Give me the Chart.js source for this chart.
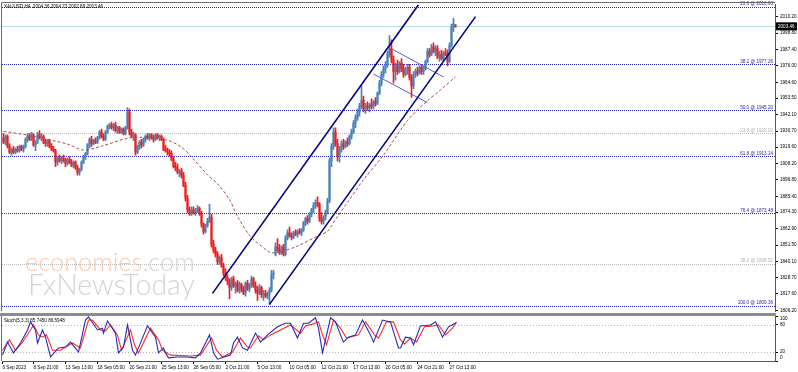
<!DOCTYPE html>
<html><head><meta charset="utf-8">
<script src="https://cdn.jsdelivr.net/npm/chart.js@4.4.0/dist/chart.umd.min.js"></script>
<style>
html,body{margin:0;padding:0;background:#fff;width:798px;height:372px;overflow:hidden}
#main{position:absolute;left:0;top:0}
#stoch{position:absolute;left:0;top:316px}
#sep{position:absolute;left:0;top:313px;width:776px;height:3px;background:#8c8c8c}
</style></head><body>
<canvas id="main" width="798" height="316"></canvas>
<div id="sep"></div>
<canvas id="stoch" width="798" height="56"></canvas>
<script>
// ---------- DATA ----------
const symbolHeader = 'XAUUSD,H4  2004.36 2004.73 2002.89 2003.46';
const stochHeader = 'Stoch(5,3,3) 85.7450 86.5948';

const open = [1926,1923,1927,1920,1916,1918,1916,1918,1917,1920,1918,1920,1925,1927,1925,1928,1921,1923,1928,1926,
1927,1923,1922,1924,1920,1918,1917,1909,1912,1910,1912,1910,1908,1911,1909,1907,1909,1905,1902,1904,
1909,1913,1915,1921,1925,1922,1924,1923,1926,1930,1927,1925,1930,1934,1935,1933,1935,1931,1933,1930,
1932,1929,1933,1944,1930,1927,1928,1916,1920,1923,1921,1925,1927,1926,1928,1926,1925,1928,1926,1927,
1925,1918,1917,1916,1915,1911,1906,1905,1902,1903,1900,1893,1884,1876,1874,1876,1874,1875,1877,1873,
1866,1861,1865,1868,1871,1852,1848,1845,1840,1843,1837,1832,1829,1826,1822,1828,1823,1825,1820,1824,
1821,1818,1825,1821,1824,1828,1823,1820,1818,1822,1817,1818,1816,1818,1820,1831,1845,1850,1848,1846,
1850,1845,1856,1860,1858,1857,1860,1859,1861,1860,1862,1867,1870,1868,1873,1876,1879,1881,1880,1870,
1868,1871,1874,1882,1910,1920,1930,1922,1913,1918,1922,1920,1923,1922,1927,1930,1936,1940,1944,1948,
1952,1946,1948,1947,1949,1948,1951,1950,1957,1964,1970,1974,1977,1984,1988,1980,1972,1976,1972,1978,
1974,1970,1973,1975,1968,1962,1970,1972,1971,1975,1972,1974,1979,1986,1984,1989,1986,1988,1982,1984,
1981,1985,1984,1979,1990,2003,2004.36];
const high = [1929,1928,1928,1922,1919,1920,1919,1920,1921,1921,1921,1926,1929,1929,1930,1929,1924,1930,1931,1929,
1928,1925,1925,1925,1922,1920,1918,1913,1914,1913,1914,1912,1912,1913,1911,1910,1910,1907,1905,1910,
1914,1916,1922,1926,1927,1925,1926,1927,1931,1932,1929,1931,1935,1936,1937,1936,1937,1934,1934,1933,
1933,1934,1947,1946,1932,1930,1929,1921,1924,1925,1926,1928,1929,1929,1929,1928,1929,1929,1928,1928,
1926,1921,1919,1918,1917,1913,1909,1908,1904,1905,1902,1895,1886,1878,1878,1878,1877,1879,1878,1875,
1867,1866,1870,1880,1873,1855,1850,1847,1844,1845,1839,1835,1831,1828,1829,1830,1826,1827,1826,1825,
1823,1826,1827,1825,1830,1829,1826,1823,1824,1823,1820,1820,1819,1822,1834,1834,1853,1856,1852,1851,
1852,1858,1862,1864,1860,1861,1862,1862,1863,1863,1868,1871,1872,1874,1877,1881,1883,1885,1881,1874,
1872,1876,1884,1912,1922,1933,1933,1925,1920,1924,1925,1924,1926,1928,1932,1938,1942,1946,1950,1962,
1955,1950,1951,1950,1953,1952,1954,1958,1966,1972,1976,1979,1986,1997,1994,1983,1978,1980,1979,1981,
1977,1975,1977,1977,1970,1972,1974,1975,1976,1977,1976,1980,1988,1988,1991,1992,1990,1990,1986,1987,
1986,1988,1987,1992,2005,2009,2004.73];
const low = [1922,1921,1919,1915,1914,1915,1915,1916,1916,1917,1916,1919,1923,1924,1924,1920,1917,1922,1925,1924,
1922,1920,1920,1919,1917,1916,1906,1907,1909,1908,1909,1906,1907,1908,1906,1905,1904,1900,1900,1903,
1908,1911,1914,1919,1920,1921,1922,1922,1925,1926,1924,1924,1929,1932,1932,1931,1930,1929,1929,1929,
1928,1928,1932,1928,1926,1924,1914,1915,1918,1919,1920,1923,1925,1924,1925,1923,1924,1925,1924,1924,
1917,1916,1914,1913,1910,1905,1903,1901,1899,1898,1892,1882,1874,1872,1872,1873,1872,1874,1872,1864,
1859,1860,1864,1867,1850,1846,1843,1838,1838,1836,1830,1827,1824,1814,1820,1822,1818,1819,1818,1819,
1817,1816,1820,1819,1822,1822,1818,1813,1817,1815,1813,1815,1814,1810,1819,1828,1844,1847,1845,1845,
1844,1844,1855,1857,1855,1856,1858,1857,1859,1858,1861,1865,1866,1867,1871,1874,1877,1878,1868,1866,
1866,1869,1873,1881,1906,1918,1920,1910,1909,1916,1918,1919,1920,1921,1925,1929,1933,1938,1941,1946,
1944,1943,1945,1944,1946,1946,1948,1949,1956,1962,1968,1971,1975,1982,1978,1964,1966,1970,1971,1972,
1968,1969,1970,1966,1954,1960,1968,1969,1970,1970,1970,1973,1978,1982,1983,1985,1983,1981,1979,1980,
1979,1983,1976,1978,1989,2000,2002.89];
const close = [1923,1927,1920,1916,1918,1916,1918,1917,1920,1918,1920,1925,1927,1925,1928,1921,1923,1928,1926,1927,
1923,1922,1924,1920,1918,1917,1909,1912,1910,1912,1910,1908,1911,1909,1907,1909,1905,1902,1904,1909,
1913,1915,1921,1925,1922,1924,1923,1926,1930,1927,1925,1930,1934,1935,1933,1935,1931,1933,1930,1932,
1929,1933,1944,1930,1927,1928,1916,1920,1923,1921,1925,1927,1926,1928,1926,1925,1928,1926,1927,1925,
1918,1917,1916,1915,1911,1906,1905,1902,1903,1900,1893,1884,1876,1874,1876,1874,1875,1877,1873,1866,
1861,1865,1868,1871,1852,1848,1845,1840,1843,1837,1832,1829,1826,1822,1828,1823,1825,1820,1824,1821,
1818,1825,1821,1824,1828,1823,1820,1818,1822,1817,1818,1816,1818,1820,1831,1832,1850,1848,1846,1850,
1845,1856,1860,1858,1857,1860,1859,1861,1860,1862,1867,1870,1868,1873,1876,1879,1881,1880,1870,1868,
1871,1874,1882,1910,1920,1930,1922,1913,1918,1922,1920,1923,1922,1927,1930,1936,1940,1944,1948,1952,
1946,1948,1947,1949,1948,1951,1950,1957,1964,1970,1974,1977,1984,1988,1980,1972,1976,1972,1978,1974,
1970,1973,1975,1968,1962,1970,1972,1971,1975,1972,1974,1979,1986,1984,1989,1986,1988,1982,1984,1981,
1985,1984,1979,1990,2003,2005,2003.46];

// moving average (dashed) read at turning points: bar index, price
const maBar = [0,15,32,40,49,62,69,82,89,94,102,107,113,117,123,132,135,140,147,157,162,167,172,180,190,202,212,218,226];
const maVal = [1930.5,1927.1,1921.6,1917.5,1920.2,1925.7,1926.4,1924.3,1919.5,1912.7,1900.3,1894.1,1883.1,1871.4,1858.4,1847.4,1846.0,1847.4,1850.8,1857.7,1861.1,1871.4,1881.1,1896.9,1914.0,1938.1,1951.8,1958.7,1968.3];

// trend channel and flag end points: bar index, price
const chanUpperBar = [104.5, 207.5], chanUpperVal = [1817.9, 2018.4];
const chanLowerBar = [133, 236],     chanLowerVal = [1810.3, 2010.2];
const flagUpperBar = [194.5, 220],   flagUpperVal = [1987.5, 1968.3];
const flagLowerBar = [185, 212],     flagLowerVal = [1970.3, 1950.4];

// Fibonacci levels
const fibVal   = [2016.93, 1977.26, 1945.20, 1913.14, 1873.48, 1809.36];
const fibLabel = ['23.6 @ 2016.93','38.2 @ 1977.26','50.0 @ 1945.20','61.8 @ 1913.14','76.4 @ 1873.48','100.0 @ 1809.36'];
const fib2Val   = [1929.02, 1838.52];
const fib2Label = ['23.6 @ 1929.02','38.2 @ 1838.52'];
const lastPrice = 2003.46;

// price axis tick labels
const yTicks = [1806.20,1817.60,1828.70,1840.10,1851.50,1862.90,1874.30,1885.40,1896.80,1908.20,1919.60,1930.70,1942.10,1953.50,1964.60,1976.00,1987.40,1998.80,2010.20];

// time axis labels at bar positions
const xTickBar   = [-0.5,15,31,47,63,79,95,111,127,143,159,175,191,207,223];
const xTickLabel = ['6 Sep 2023','8 Sep 21:00','13 Sep 13:00','18 Sep 05:00','20 Sep 21:00','25 Sep 13:00','28 Sep 05:00','2 Oct 21:00','5 Oct 13:00','10 Oct 05:00','12 Oct 21:00','17 Oct 13:00','20 Oct 05:00','24 Oct 21:00','27 Oct 13:00'];

// stochastic %K (blue) and %D (red) turning points
const stochKBar = [-0.5,2,5,8.5,12,13.5,16,17,19.5,21,23.5,27.5,31,33.5,37.5,41,42.5,47,49.5,50,52,56,57.5,60,62,64.5,66,72,76,77.5,80,81,82.5,87,92,96,98.5,103,105,107,113.5,115,117,119.5,122,126,128.5,132,137,141,143.5,147,150,152.5,156,157.5,159.5,163.5,166,168.5,170,172.5,176,179.5,183.5,185,189.5,193.5,197.5,198.5,201,203.5,205,208.5,213.5,216,219.5,222.5,226.5];
const stochK    = [13,42,18,40,69,87,69,40,69,53,9,29,31,42,20,91,98,69,73,62,89,62,18,31,80,24,13,78,53,18,29,18,7,9,9,7,18,58,18,4,13,40,53,29,24,62,42,58,76,84,84,51,84,84,96,73,18,96,87,58,42,53,58,91,58,42,91,87,29,29,53,51,36,78,80,87,53,76,85.745];
const stochDBar = [-0.5,3,6,9.5,13.5,15,17.5,19.5,21.5,24.5,28.5,34.5,38.5,42.5,44.5,48.5,51,53.5,57,59,63.5,65.5,67.5,73.5,77.5,79.5,83.5,93.5,98.5,104,106.5,109.5,114.5,118.5,122,123.5,127.5,130,133.5,143.5,148.5,151,154.5,157.5,159.5,161.5,165,168.5,171.5,177.5,181,185.5,187.5,191.5,195,198.5,200.5,203.5,206.5,210.5,215,217.5,221,224.5,226.5];
const stochD    = [24,47,24,42,69,80,58,53,58,24,24,40,29,91,91,69,67,80,58,24,69,36,18,73,47,24,13,11,13,51,24,9,20,51,31,29,56,47,58,80,62,78,82,87,58,36,91,73,51,58,87,58,51,87,87,47,38,51,42,76,78,80,58,73,86.5948];

// ---------- STYLE ----------
const FONT = "'Liberation Sans', Arial, sans-serif";
const WM_FONT = "Lato, 'Open Sans', sans-serif";
const FS = 4.6;
const BULL = '#4a80b8', BEAR = '#f01c1c';
const X_MIN = -0.75, X_MAX = 385.75;
const Y_MIN = 1805.51, Y_MAX = 2018.44;

const pts = (xs, ys) => xs.map((x, i) => ({x: x, y: ys[i]}));
const colors = close.map((c, i) => c >= open[i] ? BULL : BEAR);

function fitText(ctx, text, width, weight) {
  ctx.font = weight + ' 24px ' + WM_FONT;
  const s = width / ctx.measureText(text).width;
  ctx.font = weight + ' ' + (24 * s).toFixed(1) + 'px ' + WM_FONT;
}

const mainDecor = {
  id: 'mainDecor',
  beforeDatasetsDraw(chart) {
    const {ctx, chartArea: a, scales: {y}} = chart;
    ctx.save();
    ctx.beginPath(); ctx.rect(a.left, a.top, a.right - a.left, a.bottom - a.top); ctx.clip();
    // watermark
    ctx.textBaseline = 'alphabetic';
    fitText(ctx, 'economies.com', 170, '300');
    const w1 = ctx.measureText('economies').width;
    ctx.fillStyle = 'rgba(248,180,140,0.75)';
    ctx.fillText('economies', 25, 271);
    ctx.fillStyle = 'rgba(200,200,200,0.8)';
    ctx.fillText('.com', 25 + w1, 271);
    fitText(ctx, 'FxNewsToday', 167, '300');
    ctx.fillText('FxNewsToday', 28, 295);
    // fib lines
    ctx.lineWidth = 1;
    ctx.setLineDash([1, 1]);
    const drawH = (v, col) => {
      const py = Math.round(y.getPixelForValue(v)) + 0.5;
      ctx.strokeStyle = col;
      ctx.beginPath(); ctx.moveTo(a.left, py); ctx.lineTo(a.right, py); ctx.stroke();
    };
    fib2Val.forEach(v => drawH(v, '#bdbdbd'));
    fibVal.forEach(v => drawH(v, '#2626a6'));
    ctx.setLineDash([]);
    const py = Math.round(y.getPixelForValue(lastPrice)) + 0.5;
    ctx.strokeStyle = '#b9dcea';
    ctx.beginPath(); ctx.moveTo(a.left, py); ctx.lineTo(a.right, py); ctx.stroke();
    ctx.restore();
  },
  afterDraw(chart) {
    const {ctx, chartArea: a, scales: {y}} = chart;
    ctx.save();
    ctx.font = FS + 'px ' + FONT;
    ctx.textAlign = 'right';
    ctx.textBaseline = 'bottom';
    fibVal.forEach((v, i) => {
      ctx.fillStyle = '#2626a6';
      ctx.fillText(fibLabel[i], a.right - 2, y.getPixelForValue(v) - 0.5);
    });
    fib2Val.forEach((v, i) => {
      ctx.fillStyle = '#b0b0b0';
      ctx.fillText(fib2Label[i], a.right - 2, y.getPixelForValue(v) - 0.5);
    });
    // header
    ctx.textAlign = 'left'; ctx.textBaseline = 'middle';
    ctx.fillStyle = '#000';
    ctx.fillText(symbolHeader, 4, 6.5);
    // last price box
    const py = y.getPixelForValue(lastPrice);
    ctx.fillStyle = '#000';
    ctx.fillRect(a.right + 1, py - 4, 21, 8);
    ctx.fillStyle = '#fff';
    ctx.fillText(lastPrice.toFixed(2), a.right + 3, py);
    // border
    ctx.strokeStyle = '#6a6a6a';
    ctx.lineWidth = 1;
    ctx.beginPath();
    ctx.moveTo(1.5, a.bottom); ctx.lineTo(1.5, 2.5); ctx.lineTo(a.right, 2.5);
    ctx.stroke();
    ctx.restore();
  }
};

new Chart(document.getElementById('main'), {
  type: 'bar',
  data: {
    datasets: [
      {type: 'line', data: pts(chanUpperBar, chanUpperVal), borderColor: '#000080', borderWidth: 1.6, pointRadius: 0, order: 0},
      {type: 'line', data: pts(chanLowerBar, chanLowerVal), borderColor: '#000080', borderWidth: 1.6, pointRadius: 0, order: 0},
      {type: 'line', data: pts(flagUpperBar, flagUpperVal), borderColor: '#5a5ad0', borderWidth: 1, pointRadius: 0, order: 0},
      {type: 'line', data: pts(flagLowerBar, flagLowerVal), borderColor: '#5a5ad0', borderWidth: 1, pointRadius: 0, order: 0},
      {type: 'line', data: pts(maBar, maVal), borderColor: '#a8504a', borderWidth: 1, borderDash: [3, 2], pointRadius: 0, tension: 0.3, order: 1},
      {type: 'bar', data: high.map((h, i) => ({x: i, y: [low[i], h]})), backgroundColor: colors, barThickness: 1, grouped: false, order: 5},
      {type: 'bar', data: close.map((c, i) => ({x: i, y: [open[i], c]})), backgroundColor: colors, barThickness: 1.4, minBarLength: 1, grouped: false, order: 4}
    ]
  },
  options: {
    responsive: false, animation: false, events: [],
    layout: {padding: {left: 2, top: 3, right: 0, bottom: 3}},
    plugins: {legend: {display: false}, tooltip: {enabled: false}},
    scales: {
      x: {type: 'linear', min: X_MIN, max: X_MAX, offset: false, display: false},
      y: {
        type: 'linear', position: 'right', min: Y_MIN, max: Y_MAX,
        afterBuildTicks: s => { s.ticks = yTicks.map(v => ({value: v})); },
        afterFit: s => { s.width = 23; },
        ticks: {autoSkip: false, font: {size: FS, family: FONT}, color: '#000', padding: 2, callback: v => Number(v).toFixed(2)},
        grid: {drawOnChartArea: false, drawTicks: true, tickLength: 3, color: '#000'},
        border: {display: true, color: '#555'}
      }
    }
  },
  plugins: [mainDecor]
});

const stochDecor = {
  id: 'stochDecor',
  beforeDatasetsDraw(chart) {
    const {ctx, chartArea: a, scales: {y}} = chart;
    ctx.save();
    ctx.setLineDash([1, 2]);
    ctx.strokeStyle = '#b4b4b4';
    [80, 20].forEach(v => {
      const py = Math.round(y.getPixelForValue(v)) + 0.5;
      ctx.beginPath(); ctx.moveTo(a.left, py); ctx.lineTo(a.right, py); ctx.stroke();
    });
    ctx.restore();
  },
  afterDraw(chart) {
    const {ctx, chartArea: a, scales: {y}} = chart;
    ctx.save();
    ctx.font = FS + 'px ' + FONT;
    ctx.fillStyle = '#000';
    ctx.textBaseline = 'middle';
    ctx.textAlign = 'left';
    ctx.fillText(stochHeader, 4, 4.5);
    [[100, 3], [80, 0], [20, 0], [0, -3]].forEach(([v, off]) => {
      ctx.fillText(String(v), a.right + 5, y.getPixelForValue(v) + off);
    });
    ctx.strokeStyle = '#6a6a6a';
    ctx.beginPath(); ctx.moveTo(1.5, 0); ctx.lineTo(1.5, a.bottom); ctx.stroke();
    ctx.restore();
  }
};

new Chart(document.getElementById('stoch'), {
  type: 'line',
  data: {
    datasets: [
      {data: pts(stochKBar, stochK), borderColor: '#2828b8', borderWidth: 1.1, pointRadius: 0, order: 0},
      {data: pts(stochDBar, stochD), borderColor: '#ff2a2a', borderWidth: 1.1, pointRadius: 0, order: 1}
    ]
  },
  options: {
    responsive: false, animation: false, events: [],
    layout: {padding: {left: 2, top: 0, right: 0, bottom: 0}},
    plugins: {legend: {display: false}, tooltip: {enabled: false}},
    scales: {
      x: {
        type: 'linear', min: X_MIN, max: X_MAX, offset: false,
        afterBuildTicks: s => { s.ticks = xTickBar.map(v => ({value: v})); },
        afterFit: s => { s.height = 11; },
        ticks: {autoSkip: false, maxRotation: 0, align: 'start', font: {size: FS, family: FONT}, color: '#000', padding: 1,
                callback: (v, i) => xTickLabel[i]},
        grid: {drawOnChartArea: false, drawTicks: true, tickLength: 3, color: '#000'},
        border: {display: true, color: '#555'}
      },
      y: {
        type: 'linear', position: 'right', min: 0, max: 100,
        afterBuildTicks: s => { s.ticks = [100, 80, 20, 0].map(v => ({value: v})); },
        afterFit: s => { s.width = 23; },
        ticks: {autoSkip: false, display: false},
        grid: {drawOnChartArea: false, drawTicks: true, tickLength: 3, color: '#000'},
        border: {display: true, color: '#555'}
      }
    }
  },
  plugins: [stochDecor]
});
</script>
</body></html>
